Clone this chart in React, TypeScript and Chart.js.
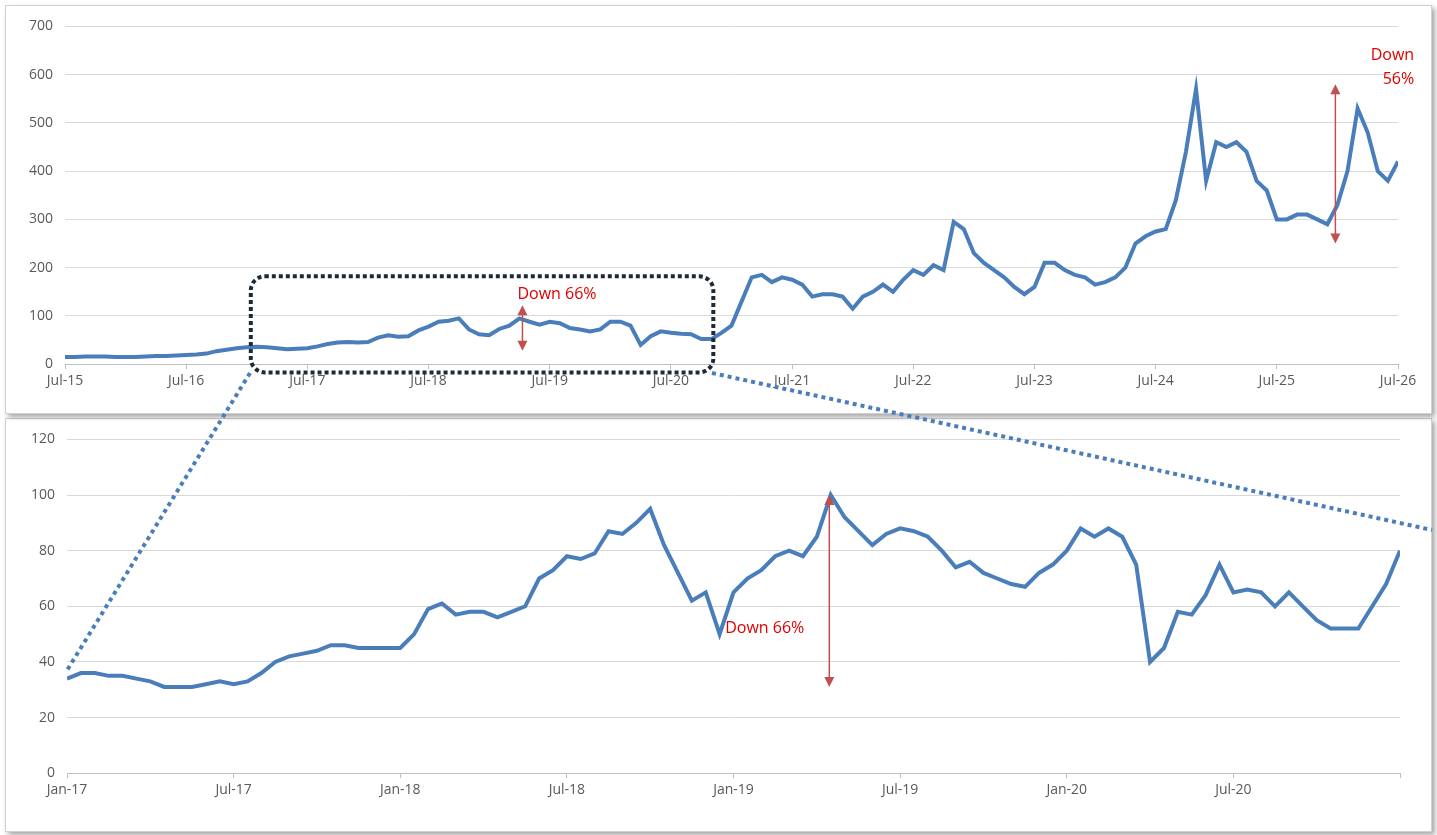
import React, { useEffect, useRef } from "react";
import { Chart, registerables } from "chart.js";

Chart.register(...registerables);

const monthNames = ["Jan", "Feb", "Mar", "Apr", "May", "Jun", "Jul", "Aug", "Sep", "Oct", "Nov", "Dec"];

// top chart: monthly values from Jul-15 (month 0) to Jul-26 (month 132)
const topValues = [
  15, 15, 16, 16, 16, 15, 15, 15, 16, 17, 17, 18,
  19, 20, 22, 27, 30, 33,
  35, 36, 35, 33, 31, 32, 33, 37, 42, 45, 46, 45, 46, 55, 60, 57, 58, 70, 78, 88, 90, 95, 72, 62, 60, 73, 80, 95, 88, 82,
  88, 85, 75, 72, 68, 72, 88, 88, 80, 40, 58, 68, 65, 63, 62, 52, 52, 65, 80,
  130, 180, 185, 170, 180, 175, 165, 140, 145, 145, 140, 115, 140, 150, 165, 150, 175, 195, 185, 205, 195, 295, 280, 230,
  210, 195, 180, 160, 145, 160, 210, 210, 195, 185, 180, 165, 170, 180, 200, 250, 265, 275, 280, 340, 440, 570, 380, 460,
  450, 460, 440, 380, 360, 300, 300, 310, 310, 300, 290, 330, 400, 530, 480, 400, 380, 420,
];

// bottom chart: half-month values from Jan-17 (month 0) to Jan-21 (month 48)
const zoomValues = [
  34, 36, 36, 35, 35, 34, 33, 31, 31, 31, 32, 33, 32, 33, 36, 40, 42, 43, 44, 46, 46, 45, 45, 45,
  45, 50, 59, 61, 57, 58, 58, 56, 58, 60, 70, 73, 78, 77, 79, 87, 86, 90, 95, 82, 72, 62, 65, 50,
  65, 70, 73, 78, 80, 78, 85, 100, 92, 87, 82, 86, 88, 87, 85, 80, 74, 76, 72, 70, 68, 67, 72, 75,
  80, 88, 85, 88, 85, 75, 40, 45, 58, 57, 64, 75, 65, 66, 65, 60, 65, 60, 55, 52, 52, 52, 60, 68,
  80,
];

const topStartYear = 15; // Jul-15
const zoomStartYear = 17; // Jan-17

type Note = { x: number; y1: number; y2: number; label: string[]; lx: number; ly: number; align: CanvasTextAlign };

const topNotes: Note[] = [
  { x: 45.3, y1: 122, y2: 28, label: ["Down 66%"], lx: 44.8, ly: 145, align: "left" },
  { x: 125.8, y1: 580, y2: 250, label: ["Down", "56%"], lx: 133.6, ly: 640, align: "right" },
];
const zoomNotes: Note[] = [{ x: 27.45, y1: 100, y2: 31, label: ["Down 66%"], lx: 23.7, ly: 52, align: "left" }];

const red = "#c0504d";
const blue = "#4a7ebb";

function arrowHead(ctx: CanvasRenderingContext2D, x: number, y: number, dir: number) {
  ctx.beginPath();
  ctx.moveTo(x, y);
  ctx.lineTo(x - 5, y - dir * 10);
  ctx.lineTo(x + 5, y - dir * 10);
  ctx.closePath();
  ctx.fill();
}

function notesPlugin(notes: Note[], box?: { x1: number; x2: number; y1: number; y2: number }) {
  return {
    id: "notes",
    afterDatasetsDraw(chart: any) {
      const { ctx, scales } = chart;
      const xs = scales.x;
      const ys = scales.y;
      ctx.save();
      if (box) {
        const l = xs.getPixelForValue(box.x1);
        const r = xs.getPixelForValue(box.x2);
        const t = ys.getPixelForValue(box.y1);
        const b = ys.getPixelForValue(box.y2);
        ctx.strokeStyle = "#1c2a3a";
        ctx.lineWidth = 4;
        ctx.setLineDash([4, 3]);
        ctx.beginPath();
        ctx.roundRect(l, t, r - l, b - t, 14);
        ctx.stroke();
        ctx.setLineDash([]);
      }
      for (const n of notes) {
        const x = xs.getPixelForValue(n.x);
        const top = ys.getPixelForValue(n.y1);
        const bot = ys.getPixelForValue(n.y2);
        ctx.strokeStyle = red;
        ctx.fillStyle = red;
        ctx.lineWidth = 1.5;
        ctx.beginPath();
        ctx.moveTo(x, top + 8);
        ctx.lineTo(x, bot - 8);
        ctx.stroke();
        arrowHead(ctx, x, top, -1);
        arrowHead(ctx, x, bot, 1);
        ctx.fillStyle = "#e00000";
        ctx.font = "16px 'Open Sans', sans-serif";
        ctx.textAlign = n.align;
        ctx.textBaseline = "middle";
        const lx = xs.getPixelForValue(n.lx);
        const ly = ys.getPixelForValue(n.ly);
        n.label.forEach((s, i) => ctx.fillText(s, lx, ly + i * 24));
      }
      ctx.restore();
    },
  };
}

function makeConfig(
  values: number[],
  step: number,
  maxX: number,
  maxY: number,
  yStep: number,
  startYear: number,
  startMonth: number,
  padding: any,
  plugin: any
): any {
  return {
    type: "line",
    data: {
      datasets: [
        {
          data: values.map((v, i) => ({ x: i * step, y: v })),
          borderColor: blue,
          borderWidth: 4,
          pointRadius: 0,
          tension: 0,
          fill: false,
        },
      ],
    },
    options: {
      animation: false,
      responsive: true,
      maintainAspectRatio: false,
      layout: { padding },
      plugins: { legend: { display: false }, tooltip: { enabled: false } },
      scales: {
        x: {
          type: "linear",
          min: 0,
          max: maxX,
          grid: { drawOnChartArea: false, tickLength: 5, color: "#bfbfbf" },
          border: { color: "#bfbfbf" },
          ticks: {
            stepSize: maxX === 132 ? 12 : 6,
            color: "#595959",
            font: { size: 14, family: "'Open Sans', sans-serif" },
            maxRotation: 0,
            callback: (v: number) => {
              if (maxX === 48 && v === 48) return "";
              const m = startMonth + v;
              return monthNames[m % 12] + "-" + (startYear + Math.floor(m / 12));
            },
          },
        },
        y: {
          min: 0,
          max: maxY,
          afterFit: (s: any) => {
            s.width = 50;
          },
          grid: { color: "#d9d9d9", drawTicks: false },
          border: { display: false },
          ticks: {
            stepSize: yStep,
            padding: 12,
            color: "#595959",
            font: { size: 14, family: "'Open Sans', sans-serif" },
          },
        },
      },
    },
    plugins: [plugin],
  };
}

function Panel(props: { config: any; style: React.CSSProperties }) {
  const ref = useRef<HTMLCanvasElement>(null);
  useEffect(() => {
    if (!ref.current) return;
    const chart = new Chart(ref.current, props.config);
    return () => chart.destroy();
  }, []);
  return (
    <div
      style={{
        position: "absolute",
        background: "#fff",
        border: "1px solid #d0d0d0",
        boxShadow: "3px 3px 5px rgba(0,0,0,0.35)",
        ...props.style,
      }}
    >
      <canvas ref={ref} />
    </div>
  );
}

export default function App() {
  const topConfig = makeConfig(
    topValues, 1, 132, 700, 100, topStartYear, 6,
    { left: 9, right: 33, top: 14, bottom: 21 },
    notesPlugin(topNotes, { x1: 18.4, x2: 64.2, y1: 182, y2: -17 })
  );
  const zoomConfig = makeConfig(
    zoomValues, 0.5, 48, 120, 20, zoomStartYear, 0,
    { left: 11, right: 31, top: 6, bottom: 30 },
    notesPlugin(zoomNotes)
  );
  return (
    <div style={{ position: "fixed", left: 0, top: 0, width: 1437, height: 835, background: "#fff", fontFamily: "'Open Sans', sans-serif" }}>
      <Panel config={topConfig} style={{ left: 5, top: 5, width: 1425, height: 407, zIndex: 2 }} />
      <Panel config={zoomConfig} style={{ left: 5, top: 418, width: 1425, height: 412, zIndex: 1 }} />
      <svg width={1437} height={835} style={{ position: "absolute", left: 0, top: 0, zIndex: 3, pointerEvents: "none" }}>
        <line x1={250} y1={373} x2={66} y2={672} stroke={blue} strokeWidth={4} strokeDasharray="4 4" />
        <line x1={712} y1={373} x2={1432} y2={530} stroke={blue} strokeWidth={4} strokeDasharray="4 4" />
      </svg>
    </div>
  );
}
